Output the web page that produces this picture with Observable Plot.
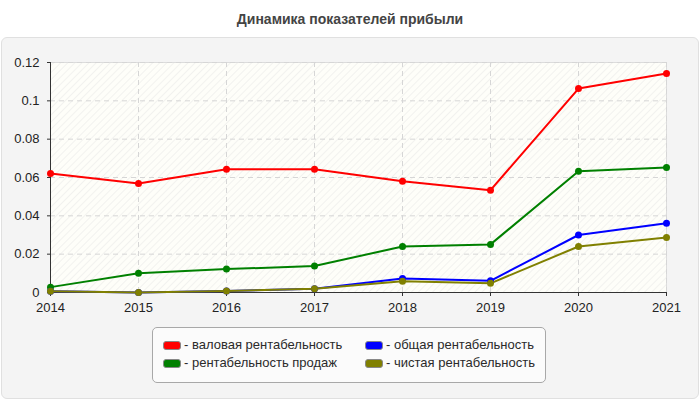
<!DOCTYPE html>
<html><head><meta charset="utf-8">
<script src="https://cdn.jsdelivr.net/npm/d3@7"></script>
<script src="https://cdn.jsdelivr.net/npm/@observablehq/plot@0.6"></script>
<style>
body{margin:0;width:700px;height:400px;background:#fff;font-family:"Liberation Sans",Arial,sans-serif;position:relative;overflow:hidden}
#title{position:absolute;top:11px;left:0;width:700px;text-align:center;font-weight:bold;font-size:14px;color:#444}
#panel{position:absolute;left:1px;top:37px;width:696px;height:360px;background:#f4f4f4;border:1px solid #e0e0e0;border-radius:6px}
#chart{position:absolute;left:0;top:37px}
#legend{position:absolute;left:152px;top:327px;width:392px;height:54px;background:#fbfbfb;border:1px solid #a8a8a8;border-radius:5px;box-sizing:content-box}
.item{position:absolute;font-size:13px;color:#2a2a2a;white-space:nowrap;line-height:16px;display:flex;align-items:center}
.sw{display:inline-block;width:16px;height:7px;border:1px solid #888;border-radius:3px;margin-right:3px}
</style>
</head><body>
<div id="title">Динамика показателей прибыли</div>
<div id="panel"></div>
<div id="chart"></div>
<div id="legend"></div>
<script>
const years = [2014, 2015, 2016, 2017, 2018, 2019, 2020, 2021];
const grossMargin = [0.0621, 0.0569, 0.0643, 0.0643, 0.0580, 0.0534, 0.1064, 0.1143];
const salesMargin = [0.0028, 0.0101, 0.0122, 0.0138, 0.0240, 0.0251, 0.0633, 0.0652];
const totalMargin = [0.0007, 0.0000, 0.0008, 0.0019, 0.0073, 0.0061, 0.0300, 0.0361];
const netMargin = [0.0007, 0.0000, 0.0008, 0.0019, 0.0059, 0.0048, 0.0240, 0.0287];
const seriesNames = ["валовая рентабельность", "рентабельность продаж", "общая рентабельность", "чистая рентабельность"];
const seriesColors = ["#ff0000", "#008000", "#0000ff", "#808000"];
const yTicks = [0, 0.02, 0.04, 0.06, 0.08, 0.1, 0.12];

const seriesValues = [grossMargin, salesMargin, totalMargin, netMargin];
const data = seriesValues.flatMap((vals, i) => years.map((y, j) => ({year: y, value: vals[j], series: seriesNames[i]})));

const chart = Plot.plot({
  width: 700, height: 285,
  marginTop: 25, marginLeft: 50, marginRight: 34, marginBottom: 30,
  style: {fontFamily: "'Liberation Sans', Arial, sans-serif", fontSize: "13px", color: "#222", background: "transparent"},
  x: {domain: [2014, 2021], label: null},
  y: {domain: [0, 0.12], label: null},
  color: {domain: seriesNames, range: seriesColors},
  marks: [
    Plot.frame({fill: "url(#hatch)", stroke: "#dcdcdc"}),
    Plot.gridY(yTicks, {stroke: "#d6d6d6", strokeOpacity: 1, strokeDasharray: "5,4"}),
    Plot.gridX(years, {stroke: "#d6d6d6", strokeOpacity: 1, strokeDasharray: "5,4"}),
    Plot.axisY(yTicks, {tickSize: 3, tickPadding: 8, tickFormat: d3.format("~g"), stroke: "#333", fill: "#222"}),
    Plot.axisX(years, {tickSize: 4, tickPadding: 6, tickFormat: "d", stroke: "#333", fill: "#222"}),
    Plot.ruleY([0], {stroke: "#333"}),
    Plot.ruleX([2014], {stroke: "#333"}),
    Plot.line(data, {x: "year", y: "value", stroke: "series", strokeWidth: 2}),
    Plot.dot(data, {x: "year", y: "value", fill: "series", r: 3.5})
  ]
});

const svg = d3.select(chart);
const defs = svg.insert("defs", ":first-child");
const pat = defs.append("pattern").attr("id", "hatch").attr("patternUnits", "userSpaceOnUse")
  .attr("width", 5).attr("height", 5).attr("patternTransform", "rotate(45)");
pat.append("rect").attr("width", 5).attr("height", 5).attr("fill", "#fefef9");
pat.append("line").attr("x1", 0).attr("y1", 0).attr("x2", 0).attr("y2", 5).attr("stroke", "#eeeeec").attr("stroke-width", 1.5);
document.getElementById("chart").appendChild(chart);

const legend = document.getElementById("legend");
const pos = [[10, 9], [10, 27], [212, 9], [212, 27]];
seriesNames.forEach((name, i) => {
  const d = document.createElement("div");
  d.className = "item";
  d.style.left = pos[i][0] + "px";
  d.style.top = pos[i][1] + "px";
  const sw = document.createElement("span");
  sw.className = "sw";
  sw.style.background = seriesColors[i];
  d.appendChild(sw);
  d.appendChild(document.createTextNode("- " + name));
  legend.appendChild(d);
});
</script>
</body></html>
